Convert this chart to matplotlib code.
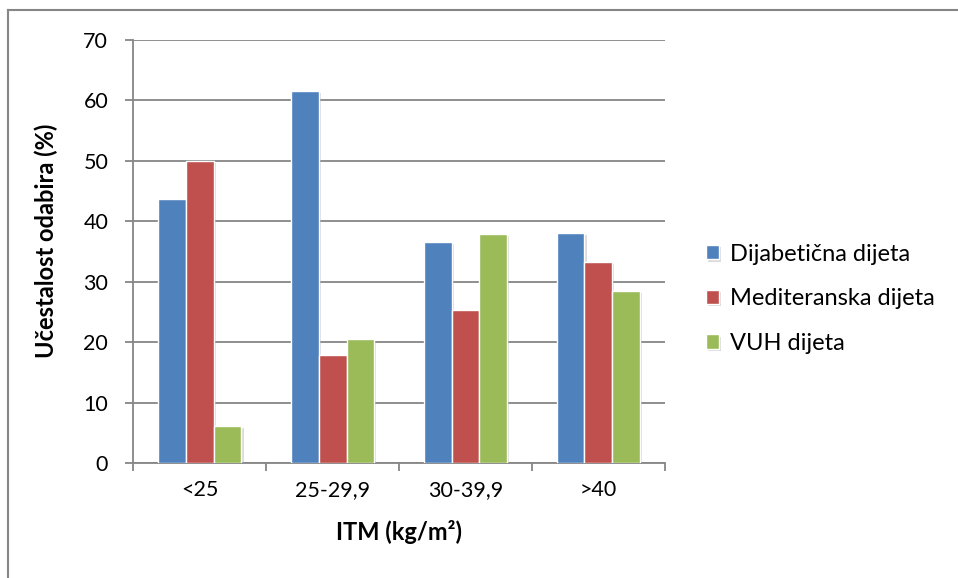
import numpy as np
import matplotlib.pyplot as plt
import matplotlib.patheffects as pe
from matplotlib.lines import Line2D

plt.rcParams['font.family'] = ['Lato', 'DejaVu Sans']

kategorije = ['<25', '25-29,9', '30-39,9', '>40']
dijabeticna = [43.7, 61.5, 36.6, 38.0]
mediteranska = [50.0, 17.9, 25.3, 33.2]
vuh = [6.2, 20.5, 37.9, 28.5]
nazivi = ['Dijabetična dijeta', 'Mediteranska dijeta', 'VUH dijeta']
boje = ['#4F81BD', '#C0504D', '#9BBB59']

siva = '#868686'

fig = plt.figure(figsize=(9.58, 5.78), dpi=100)
ax = fig.add_axes([0.139, 0.199, 0.555, 0.732])

x = np.arange(len(kategorije))
sirina = 0.21
sjena = [pe.SimplePatchShadow(offset=(1.5, -1.5), shadow_rgbFace='#999999', alpha=0.35), pe.Normal()]
for i, (vrijednosti, naziv, boja) in enumerate(zip([dijabeticna, mediteranska, vuh], nazivi, boje)):
    stupci = ax.bar(x + (i - 1) * sirina, vrijednosti, sirina, color=boja, edgecolor='white',
                    linewidth=1.0, label=naziv, zorder=3)
    for s in stupci:
        s.set_path_effects(sjena)

ax.set_xlim(-0.5, len(kategorije) - 0.5)
ax.set_ylim(0, 70)
ax.set_yticks(np.arange(0, 71, 10))
ax.yaxis.grid(True, color=siva, linewidth=1.3, zorder=0)
ax.set_axisbelow(True)

ax.set_xticks(x)
ax.set_xticklabels(kategorije, fontsize=15.5)
ax.set_xticks(np.arange(-0.5, len(kategorije)), minor=True)
ax.tick_params(axis='x', which='major', length=0, pad=12)
ax.tick_params(axis='x', which='minor', length=6, color=siva, width=1.3)
ax.tick_params(axis='y', length=6, color=siva, width=1.3, labelsize=15.5, pad=12)

for strana in ['top', 'right']:
    ax.spines[strana].set_visible(False)
for strana in ['left', 'bottom']:
    ax.spines[strana].set_color(siva)
    ax.spines[strana].set_linewidth(1.3)

ax.set_ylabel('Učestalost odabira (%)', fontsize=17, fontweight='bold')
ax.yaxis.set_label_coords(-0.141, 0.525)
ax.set_xlabel('ITM (kg/m²)', fontsize=17, fontweight='bold')
ax.xaxis.set_label_coords(0.5, -0.135)

fig.legend(loc='center left', bbox_to_anchor=(0.737, 0.483), frameon=False, fontsize=17,
           borderpad=0, borderaxespad=0, handlelength=0.55, handleheight=0.55,
           handletextpad=0.45, labelspacing=1.0)

# okvir grafikona (lijevi i gornji rub)
fig.add_artist(Line2D([0.0085, 0.0085], [0.0, 0.983], color=siva, linewidth=1.5))
fig.add_artist(Line2D([0.0085, 1.0], [0.983, 0.983], color=siva, linewidth=1.5))

fig.savefig('out.png', dpi=100)
